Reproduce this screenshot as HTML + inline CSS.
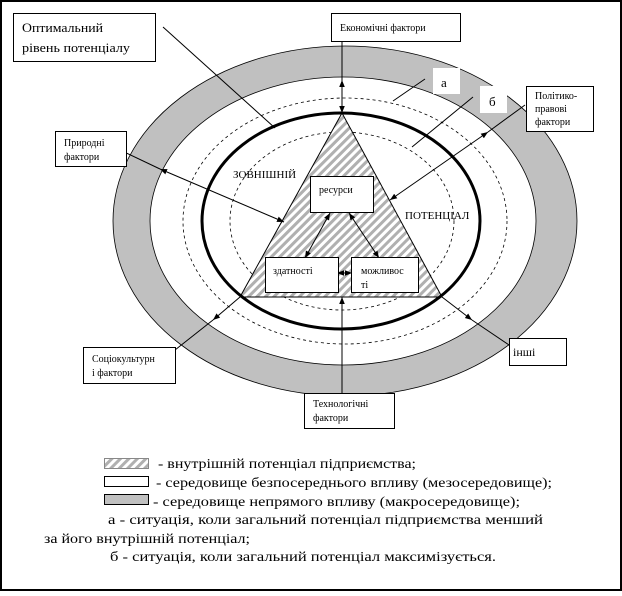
<!DOCTYPE html>
<html><head><meta charset="utf-8"><style>
body{margin:0;background:#fff}
svg text{font-family:"Liberation Serif",serif;fill:#000}
</style></head><body>
<svg width="622" height="591" viewBox="0 0 622 591" xmlns="http://www.w3.org/2000/svg">
<defs>
<pattern id="h" patternUnits="userSpaceOnUse" width="6" height="6" patternTransform="rotate(45)">
<rect width="6" height="6" fill="#fff"/><rect width="3" height="6" fill="#b0b0b0"/></pattern>
<marker id="a" viewBox="0 0 10 10" refX="10" refY="5" markerWidth="7" markerHeight="7" orient="auto-start-reverse"><path d="M0,1 L10,5 L0,9z" fill="#000"/></marker>
</defs>
<rect x="1" y="1" width="620" height="589" fill="#fff" stroke="#000" stroke-width="2"/>
<ellipse cx="345" cy="221" rx="232" ry="175" fill="#c0c0c0" stroke="#000" stroke-width="0.8"/>
<ellipse cx="343" cy="221" rx="193" ry="144" fill="#fff" stroke="#000" stroke-width="0.8"/>
<ellipse cx="345" cy="221" rx="162" ry="123" fill="none" stroke="#000" stroke-width="0.8" stroke-dasharray="3,3"/>
<ellipse cx="342" cy="221" rx="112" ry="89" fill="none" stroke="#000" stroke-width="0.8" stroke-dasharray="3,3"/>
<polygon points="342,113 240,297 442,297" fill="url(#h)" stroke="#000" stroke-width="1"/>
<ellipse cx="341" cy="221" rx="139" ry="108" fill="none" stroke="#000" stroke-width="3"/>
<g stroke="#000" stroke-width="1" fill="none">
<line x1="163" y1="27" x2="275" y2="128"/>
<line x1="393" y1="101" x2="425" y2="79"/>
<line x1="412" y1="147" x2="473" y2="97"/>
<line x1="342" y1="41" x2="342" y2="80"/>
<line x1="342" y1="80" x2="342" y2="113" marker-start="url(#a)" marker-end="url(#a)"/>
<line x1="525" y1="105" x2="488" y2="132"/>
<line x1="488" y1="132" x2="390" y2="200" marker-start="url(#a)" marker-end="url(#a)"/>
<line x1="120" y1="150" x2="160" y2="169"/>
<line x1="160" y1="169" x2="284" y2="222" marker-start="url(#a)" marker-end="url(#a)"/>
<line x1="330" y1="213" x2="305" y2="258" marker-start="url(#a)" marker-end="url(#a)"/>
<line x1="349" y1="213" x2="379" y2="258" marker-start="url(#a)" marker-end="url(#a)"/>
<line x1="337" y1="273" x2="352" y2="273" marker-start="url(#a)" marker-end="url(#a)"/>
<line x1="240" y1="297" x2="213" y2="320" marker-end="url(#a)"/>
<line x1="213" y1="320" x2="175" y2="350"/>
<line x1="442" y1="297" x2="472" y2="320" marker-end="url(#a)"/>
<line x1="472" y1="320" x2="509" y2="345"/>
<line x1="342" y1="393" x2="342" y2="297" marker-end="url(#a)"/>
</g>
<g stroke="#000" stroke-width="1" fill="#fff">
<rect x="13.5" y="13.5" width="142" height="48"/>
<rect x="331.5" y="13.5" width="129" height="28"/>
<rect x="433" y="68" width="27" height="26" stroke="none"/>
<rect x="480" y="86" width="27" height="27" stroke="none"/>
<rect x="526.5" y="86.5" width="67" height="45"/>
<rect x="55.5" y="131.5" width="71" height="35"/>
<rect x="310.5" y="176.5" width="63" height="36"/>
<rect x="265.5" y="257.5" width="73" height="35"/>
<rect x="351.5" y="257.5" width="67" height="35"/>
<rect x="83.5" y="347.5" width="92" height="36"/>
<rect x="509.5" y="338.5" width="57" height="27"/>
<rect x="304.5" y="393.5" width="90" height="35"/>
</g>
<g font-size="13">
<text x="22" y="32" textLength="81" lengthAdjust="spacingAndGlyphs">Оптимальний</text><text x="22" y="52" textLength="108" lengthAdjust="spacingAndGlyphs">рівень потенціалу</text>
<text x="441" y="87">а</text><text x="489" y="106">б</text>
</g>
<g font-size="10">
<text x="340" y="31">Економічні фактори</text>
<text x="535" y="99">Політико-</text><text x="535" y="112">правові</text><text x="535" y="125">фактори</text>
<text x="64" y="146">Природні</text><text x="64" y="160">фактори</text>
<text x="319" y="193">ресурси</text>
<text x="273" y="274">здатності</text>
<text x="361" y="274">можливос</text><text x="361" y="288">ті</text>
<text x="92" y="362">Соціокультурн</text><text x="92" y="376">і фактори</text>
<text x="513" y="356" font-size="12">інші</text>
<text x="313" y="407">Технологічні</text><text x="313" y="421">фактори</text>
<text x="233" y="178" font-size="11">ЗОВНІШНІЙ</text>
<text x="405" y="219" font-size="11">ПОТЕНЦІАЛ</text>
</g>
<rect x="104.5" y="458.5" width="44" height="10" fill="url(#h)" stroke="#888"/>
<rect x="104.5" y="476.5" width="44" height="10" fill="#fff" stroke="#000"/>
<rect x="104.5" y="494.5" width="44" height="10" fill="#c0c0c0" stroke="#000"/>
<g font-size="14">
<text x="158" y="468" textLength="258" lengthAdjust="spacingAndGlyphs">- внутрішній потенціал підприємства;</text>
<text x="156" y="487" textLength="396" lengthAdjust="spacingAndGlyphs">-  середовище безпосереднього впливу (мезосередовище);</text>
<text x="153" y="506" textLength="367" lengthAdjust="spacingAndGlyphs">-   середовище непрямого впливу (макросередовище);</text>
<text x="108" y="524" textLength="435" lengthAdjust="spacingAndGlyphs">а    - ситуація, коли  загальний потенціал підприємства менший</text>
<text x="44" y="543" textLength="206" lengthAdjust="spacingAndGlyphs">за його внутрішній потенціал;</text>
<text x="110" y="561" textLength="386" lengthAdjust="spacingAndGlyphs">б    - ситуація, коли загальний потенціал максимізується.</text>
</g>
</svg>
</body></html>
